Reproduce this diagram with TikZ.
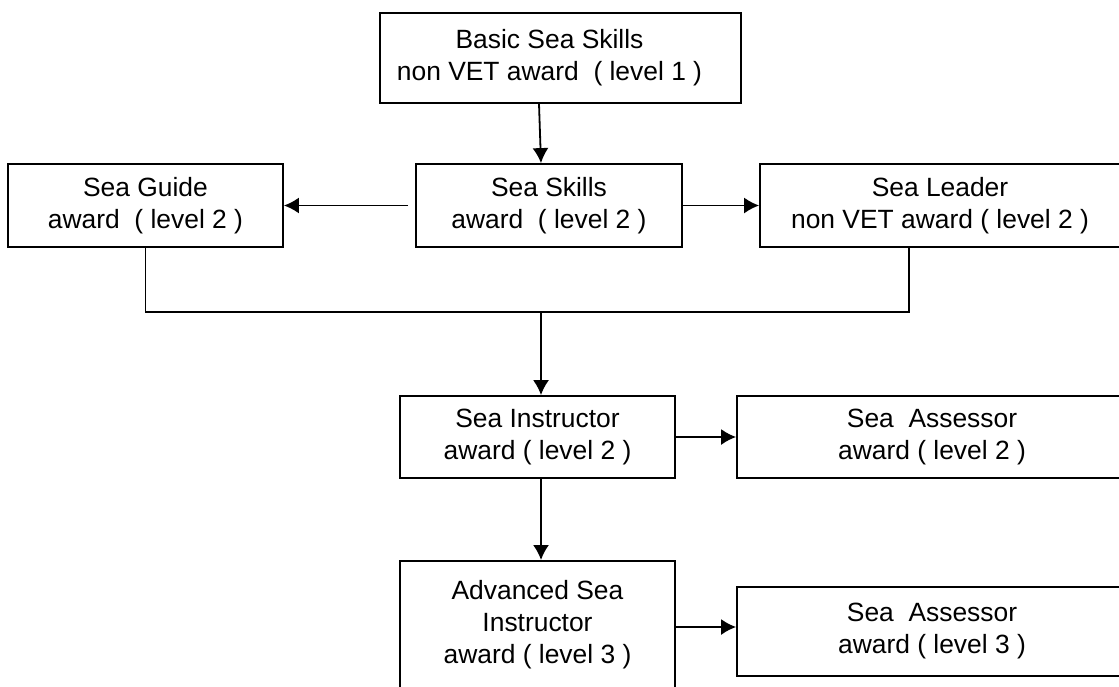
\documentclass[tikz,border=0pt]{standalone}
\usepackage{fontspec}
\setmainfont{Liberation Sans}
\usetikzlibrary{arrows.meta}

\begin{document}
\begin{tikzpicture}[x=0.5pt, y=-0.5pt, >={Latex[length=7.5pt,width=8pt]},
	line width=0.9pt,
	award/.style={draw, rectangle, align=center, inner sep=2pt,
		minimum height=41.5pt, font=\fontsize{13.2}{16}\selectfont}]
	\useasboundingbox (0,0) rectangle (1119,686);

	\node[award, minimum width=180.5pt, minimum height=45pt]
	(basic) at (560.5,58)
	{Basic Sea Skills\hspace*{11pt}\\non VET award~ ( level 1 )\hspace*{11pt}};

	\node[award, minimum width=133pt] (skills) at (549,205.5)
	{Sea Skills\\award~ ( level 2 )};
	\node[award, minimum width=137.5pt] (guide) at (145.5,205.5)
	{Sea Guide\\award~ ( level 2 )};
	\node[award, minimum width=180pt] (leader) at (940,205.5)
	{Sea Leader\\non VET award ( level 2 )};

	\node[award, minimum width=137.5pt, minimum height=41pt]
	(instr) at (537.5,437) {Sea Instructor\\award ( level 2 )};
	\node[award, minimum width=195pt, minimum height=41pt]
	(assess2) at (932,437) {Sea~ Assessor\\award ( level 2 )};

	\node[award, minimum width=137.5pt, anchor=north, inner ysep=9.5pt,
		text depth=60pt] (adv) at (537.5,560)
	{Advanced Sea\\Instructor\\award ( level 3 )};
	\node[award, minimum width=195pt, minimum height=44.5pt]
	(assess3) at (932,631.5) {Sea~ Assessor\\award ( level 3 )};

	\draw[->] ([xshift=-10.75pt]basic.south) -- ([xshift=-4pt]skills.north);
	\draw[->] ([xshift=-3.5pt]skills.west) -- (guide.east);
	\draw[->] (skills.east) -- (leader.west);

	\coordinate (join) at (541,312);
	\draw (guide.south) |- (join) -| ([xshift=-15.5pt]leader.south);
	\draw[->] (join) -- (join |- instr.north);

	\draw[->] (instr.east) -- (assess2.west);
	\draw[->] (instr.south -| join) -- (adv.north -| join);
	\draw[->] ([yshift=2.25pt]assess3.west -| adv.east) -- ([yshift=2.25pt]assess3.west);
\end{tikzpicture}
\end{document}
